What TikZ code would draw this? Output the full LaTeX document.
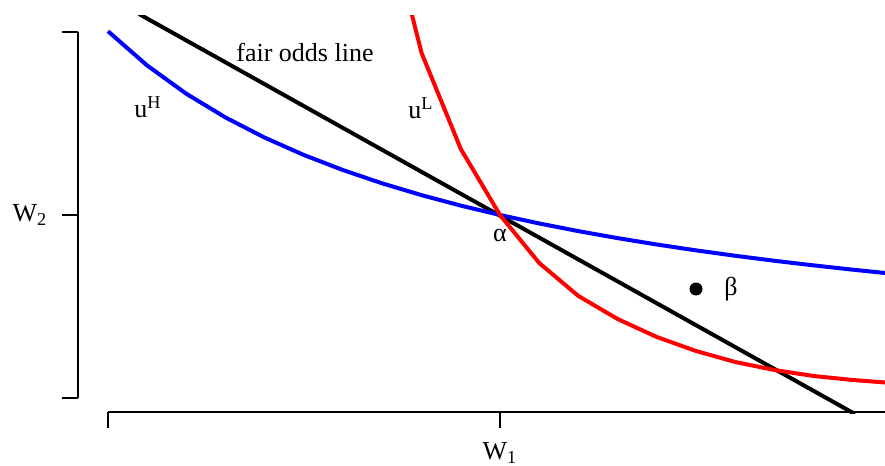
\documentclass[tikz,border=0pt]{standalone}
\usepackage{fontspec}
\setmainfont{Liberation Serif}
\usepackage{tikz}
\usetikzlibrary{positioning}
\definecolor{uhblue}{HTML}{0000FF}
\definecolor{ulred}{HTML}{FF0000}

\begin{document}
\begin{tikzpicture}[x=0.5pt, y=-0.5pt, font=\fontsize{13}{15}\selectfont,
  axis/.style={line width=1pt, draw=black, line cap=butt},
  oddsline/.style={line width=2pt, draw=black},
  hcurve/.style={line width=2pt, draw=uhblue, line join=round},
  lcurve/.style={line width=2pt, draw=ulred, line join=round},
  lab/.style={inner sep=0pt, anchor=center}]
\useasboundingbox (0,0) rectangle (885,466);
% axes
\draw[axis] (78,32) -- (78,398);
\foreach \ty in {32,215,398}
  \draw[axis] (62,\ty) -- (78,\ty);
\draw[axis] (108,412) -- (885,412);
\foreach \tx in {108,500}
  \draw[axis] (\tx,412) -- (\tx,428);
\node[lab] (wtwo) at (30,215) {W\textsubscript{2}};
\node[lab] (wone) at (500,453) {W\textsubscript{1}};
% curves and the fair odds line
\begin{scope}
  \clip (0,15) rectangle (885,413);
  \draw[oddsline] (139,14) -- (855,414);
  \draw[hcurve] plot[domain=108:891.6, samples=21] (\x, {387.5-1311.03/((\x+260)/100)});
  \draw[lcurve] plot coordinates {(382.4,-102) (421.6,53) (460.8,149) (500,215)
    (539.2,263) (578.4,296) (617.6,319) (656.8,337) (696,351) (735.2,362)
    (774.4,370) (813.6,376) (852.8,380) (892,383)};
\end{scope}
\coordinate (alpha) at (500,215);
\fill (696,289) circle (6.5) coordinate (beta);
% labels
\node[lab] (fair) at (305,52) {fair odds line};
\node[lab] (uh) at (148,107) {u\textsuperscript{H}};
\node[lab] (ul) at (421,108) {u\textsuperscript{L}};
\node[lab, anchor=north, below=7pt of alpha] (alab) {α};
\node[lab, anchor=west, right=14pt of beta] (blab) {β};
\end{tikzpicture}
\end{document}
